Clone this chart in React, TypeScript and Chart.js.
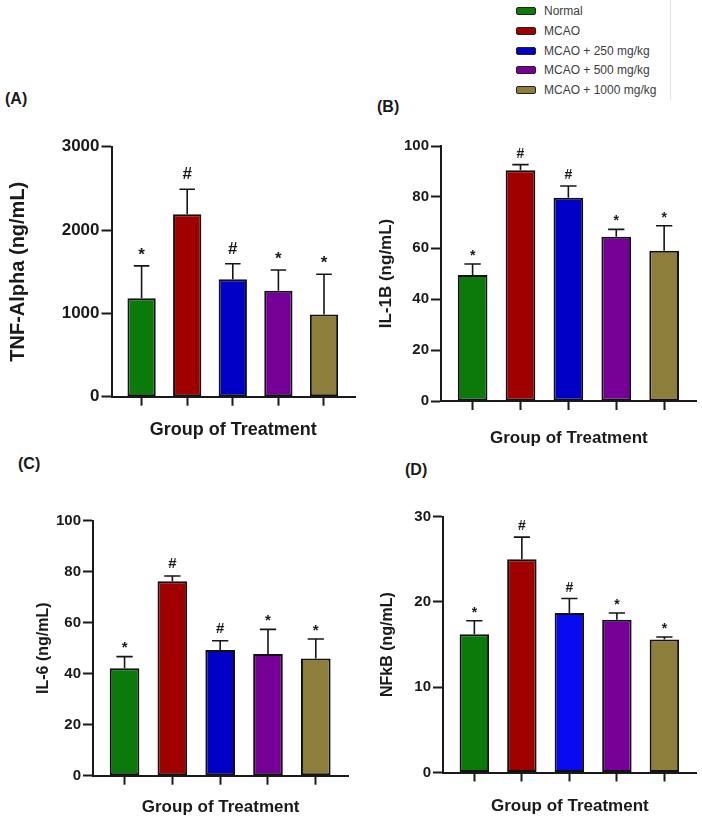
import React, { useEffect, useRef } from "react";
import { Chart, registerables } from "chart.js";

Chart.register(...registerables);

// Treatment groups (shared by all four panels)
const groups = ["Normal", "MCAO", "MCAO + 250 mg/kg", "MCAO + 500 mg/kg", "MCAO + 1000 mg/kg"];
const groupPositions = [1, 2, 3, 4, 5];

// (A) TNF-Alpha
const tnfMean = [1180, 2190, 1410, 1270, 985];
const tnfErr = [390, 300, 185, 250, 485];
const tnfSig = ["*", "#", "#", "*", "*"];
const tnfTicks = [0, 1000, 2000, 3000];

// (B) IL-1B
const il1bMean = [49.4, 90.5, 79.7, 64.4, 58.9];
const il1bErr = [4.3, 2.2, 4.6, 2.9, 9.8];
const il1bSig = ["*", "#", "#", "*", "*"];
const il1bTicks = [0, 20, 40, 60, 80, 100];

// (C) IL-6
const il6Mean = [42.1, 76.3, 49.3, 47.7, 46.0];
const il6Err = [4.6, 2.0, 3.6, 9.7, 7.6];
const il6Sig = ["*", "#", "#", "*", "*"];
const il6Ticks = [0, 20, 40, 60, 80, 100];

// (D) NFkB
const nfkbMean = [16.2, 25.0, 18.7, 17.9, 15.6];
const nfkbErr = [1.6, 2.6, 1.7, 0.8, 0.3];
const nfkbSig = ["*", "#", "#", "*", "*"];
const nfkbTicks = [0, 10, 20, 30];

const FONT = '"Liberation Sans", Arial, Helvetica, sans-serif';

const barColors = ["#0b7a0b", "#a10000", "#0000c6", "#760097", "#8e7e3b"];
const barColorsBright = ["#0b7a0b", "#a10000", "#0a0af2", "#760097", "#8e7e3b"];

type Box = { left: number; top: number; width: number; height: number };
type Area = { l: number; r: number; t: number; b: number };

type PanelSpec = {
  label: string;
  labelPos: { x: number; y: number };
  mean: number[];
  err: number[];
  sig: string[];
  ticks: number[];
  colors: string[];
  yTitle: string;
  box: Box;
  area: Area;
  tickFont: number;
  yTitleFont: number;
  yTitleCx: number;
  xTitleFont: number;
  xTitleCy: number;
  symFont: number;
  symGap: number;
};

const panels: PanelSpec[] = [
  {
    label: "(A)",
    labelPos: { x: 5, y: 90 },
    mean: tnfMean,
    err: tnfErr,
    sig: tnfSig,
    ticks: tnfTicks,
    colors: barColors,
    yTitle: "TNF-Alpha (ng/mL)",
    box: { left: 0, top: 120, width: 360, height: 330 },
    area: { l: 111.5, r: 355, t: 146.7, b: 396.7 },
    tickFont: 17,
    yTitleFont: 20,
    yTitleCx: 18.5,
    xTitleFont: 18,
    xTitleCy: 430,
    symFont: 17,
    symGap: 16,
  },
  {
    label: "(B)",
    labelPos: { x: 377, y: 98 },
    mean: il1bMean,
    err: il1bErr,
    sig: il1bSig,
    ticks: il1bTicks,
    colors: barColors,
    yTitle: "IL-1B (ng/mL)",
    box: { left: 360, top: 120, width: 342, height: 330 },
    area: { l: 441, r: 696.7, t: 146, b: 401 },
    tickFont: 15,
    yTitleFont: 17,
    yTitleCx: 386.7,
    xTitleFont: 17,
    xTitleCy: 438,
    symFont: 14,
    symGap: 12,
  },
  {
    label: "(C)",
    labelPos: { x: 18, y: 455 },
    mean: il6Mean,
    err: il6Err,
    sig: il6Sig,
    ticks: il6Ticks,
    colors: barColors,
    yTitle: "IL-6 (ng/mL)",
    box: { left: 0, top: 480, width: 360, height: 340 },
    area: { l: 93, r: 348.3, t: 520.7, b: 775.7 },
    tickFont: 15,
    yTitleFont: 16,
    yTitleCx: 43.3,
    xTitleFont: 17,
    xTitleCy: 807.5,
    symFont: 15,
    symGap: 13,
  },
  {
    label: "(D)",
    labelPos: { x: 405, y: 461 },
    mean: nfkbMean,
    err: nfkbErr,
    sig: nfkbSig,
    ticks: nfkbTicks,
    colors: barColorsBright,
    yTitle: "NFkB (ng/mL)",
    box: { left: 360, top: 480, width: 342, height: 340 },
    area: { l: 443, r: 696.7, t: 516.7, b: 772.5 },
    tickFont: 15,
    yTitleFont: 16,
    yTitleCx: 387.5,
    xTitleFont: 17,
    xTitleCy: 806.5,
    symFont: 14,
    symGap: 12,
  },
];

// Upward error bars with caps, plus significance marks above them
function makeErrorBarPlugin(spec: PanelSpec) {
  return {
    id: "errorBars",
    afterDatasetsDraw(chart: any) {
      const meta = chart.getDatasetMeta(0);
      const ds = chart.data.datasets[0];
      const yScale = chart.scales.y;
      const ctx = chart.ctx as CanvasRenderingContext2D;
      ctx.save();
      meta.data.forEach((bar: any, i: number) => {
        const v = ds.data[i].y as number;
        const e = ds.err[i] as number;
        const { x, width } = bar.getProps(["x", "width"], true);
        const base = yScale.getPixelForValue(v);
        const top = yScale.getPixelForValue(v + e);
        const cap = width * 0.55;
        ctx.strokeStyle = "#161616";
        ctx.lineWidth = 1.6;
        ctx.beginPath();
        ctx.moveTo(x, base);
        ctx.lineTo(x, top);
        ctx.moveTo(x - cap / 2, top);
        ctx.lineTo(x + cap / 2, top);
        ctx.stroke();

        const mark = ds.sig[i] as string;
        const k = mark === "#" ? 0.36 : 0.57;
        ctx.fillStyle = "#1a1a1a";
        ctx.font = `bold ${spec.symFont}px ${FONT}`;
        ctx.textAlign = "center";
        ctx.textBaseline = "alphabetic";
        ctx.fillText(mark, x, top - spec.symGap + k * spec.symFont);
      });
      ctx.restore();
    },
  };
}

function Panel({ spec }: { spec: PanelSpec }) {
  const ref = useRef<HTMLCanvasElement | null>(null);

  useEffect(() => {
    const canvas = ref.current;
    if (!canvas) return;
    const { box, area } = spec;
    const yAxisWidth = area.l - box.left;
    const xAxisHeight = box.top + box.height - area.b;
    const padTop = area.t - box.top;
    const padRight = box.left + box.width - area.r;
    const yTitlePad = spec.yTitleCx - box.left - spec.yTitleFont / 2;
    const xTitlePad = box.top + box.height - spec.xTitleCy - spec.xTitleFont / 2;
    const yMax = spec.ticks[spec.ticks.length - 1];
    const step = spec.ticks[1] - spec.ticks[0];

    const chart = new Chart(canvas, {
      type: "bar",
      data: {
        labels: groups,
        datasets: [
          {
            label: spec.yTitle,
            data: groupPositions.map((p, i) => ({ x: p, y: spec.mean[i] })),
            err: spec.err,
            sig: spec.sig,
            backgroundColor: spec.colors,
            borderColor: "#111111",
            borderWidth: 2,
            borderSkipped: false,
            categoryPercentage: 1,
            barPercentage: 0.62,
          } as any,
        ],
      },
      options: {
        animation: false,
        responsive: false,
        devicePixelRatio: 1,
        layout: { padding: { top: padTop, right: padRight, bottom: 0, left: 0 } },
        plugins: {
          legend: { display: false },
          tooltip: { enabled: false },
        },
        scales: {
          x: {
            type: "linear",
            min: 0.34,
            max: 5.68,
            offset: false,
            afterBuildTicks: (scale: any) => {
              scale.ticks = groupPositions.map((v) => ({ value: v }));
            },
            afterFit: (scale: any) => {
              scale.height = xAxisHeight;
            },
            ticks: { display: false },
            grid: {
              display: true,
              offset: false,
              drawOnChartArea: false,
              drawTicks: true,
              tickLength: 9,
              tickWidth: 2,
              tickColor: "#1a1a1a",
            },
            border: { display: true, color: "#1a1a1a", width: 2 },
            title: {
              display: true,
              text: "Group of Treatment",
              color: "#1a1a1a",
              font: { family: FONT, size: spec.xTitleFont, weight: "bold", lineHeight: 1 },
              padding: { top: 0, bottom: xTitlePad },
            },
          },
          y: {
            type: "linear",
            min: 0,
            max: yMax,
            afterBuildTicks: (scale: any) => {
              scale.ticks = spec.ticks.map((v) => ({ value: v }));
            },
            afterFit: (scale: any) => {
              scale.width = yAxisWidth;
            },
            ticks: {
              stepSize: step,
              color: "#1a1a1a",
              padding: 2,
              font: { family: FONT, size: spec.tickFont, weight: "bold" },
              callback: (value: any) => String(value),
            },
            grid: {
              display: true,
              drawOnChartArea: false,
              drawTicks: true,
              tickLength: 10,
              tickWidth: 2,
              tickColor: "#1a1a1a",
            },
            border: { display: true, color: "#1a1a1a", width: 2 },
            title: {
              display: true,
              text: spec.yTitle,
              color: "#1a1a1a",
              font: { family: FONT, size: spec.yTitleFont, weight: "bold", lineHeight: 1 },
              padding: { top: yTitlePad, bottom: 0 },
            },
          },
        },
      } as any,
      plugins: [makeErrorBarPlugin(spec)],
    });

    return () => chart.destroy();
  }, [spec]);

  const { box } = spec;
  return (
    <>
      <canvas
        ref={ref}
        width={box.width}
        height={box.height}
        style={{ position: "absolute", left: box.left, top: box.top, width: box.width, height: box.height }}
      />
      <div
        style={{
          position: "absolute",
          left: spec.labelPos.x,
          top: spec.labelPos.y,
          font: `bold 16px ${FONT}`,
          color: "#1a1a1a",
          lineHeight: "18px",
          whiteSpace: "nowrap",
        }}
      >
        {spec.label}
      </div>
    </>
  );
}

function Legend() {
  const rowTop = 2;
  const rowStep = 19.75;
  return (
    <>
      <div style={{ position: "absolute", left: 670, top: 0, width: 1, height: 100, background: "#e6e6e6" }} />
      {groups.map((g, i) => (
        <div
          key={g}
          style={{
            position: "absolute",
            left: 516,
            top: rowTop + i * rowStep,
            height: 18,
            display: "flex",
            alignItems: "center",
            whiteSpace: "nowrap",
          }}
        >
          <div
            style={{
              width: 18,
              height: 6,
              background: barColors[i],
              border: "1.5px solid #222",
              borderRadius: 2,
              marginRight: 8,
            }}
          />
          <span style={{ font: `12px ${FONT}`, color: "#3c3c3c" }}>{g}</span>
        </div>
      ))}
    </>
  );
}

export default function App() {
  return (
    <div
      style={{
        position: "absolute",
        left: 0,
        top: 0,
        width: 702,
        height: 820,
        background: "#ffffff",
        overflow: "hidden",
      }}
    >
      <Legend />
      {panels.map((p) => (
        <Panel key={p.label} spec={p} />
      ))}
    </div>
  );
}
